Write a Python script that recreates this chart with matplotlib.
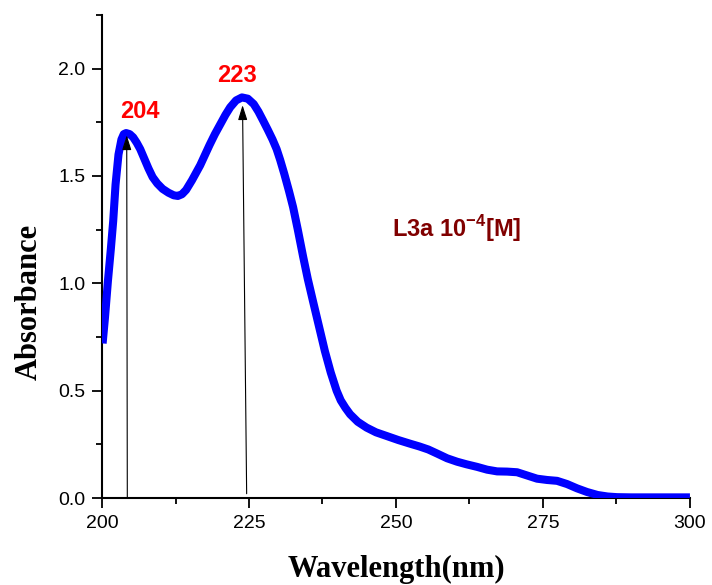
import matplotlib
matplotlib.use("Agg")
import matplotlib.pyplot as plt
from matplotlib.ticker import MultipleLocator

plt.rcParams["mathtext.fontset"] = "custom"
plt.rcParams["mathtext.rm"] = "Liberation Sans"
plt.rcParams["mathtext.bf"] = "Liberation Sans:bold"

# UV-Vis absorption spectrum of L3a (1e-4 M)
wavelength = [200.1, 200.5, 201.0, 201.5, 201.9, 202.3, 202.8, 203.3, 203.7, 204.1,
              204.7, 205.3, 205.9, 206.5, 207.2, 207.9, 208.6, 209.4, 210.3, 211.3,
              212.2, 212.9, 213.6, 214.3, 215.3, 216.7, 218.3, 219.2, 220.1, 221.0,
              221.8, 222.8, 223.8, 224.8, 225.8, 226.6, 227.4, 228.2, 229.0, 229.7,
              230.3, 231.0, 231.8, 232.5, 233.3, 234.2, 235.0, 235.9, 236.9, 237.9,
              238.9, 239.9, 240.6, 241.4, 242.2, 243.5, 245.0, 246.6, 248.4, 250.4,
              252.4, 254.0, 255.5, 257.0, 258.7, 260.4, 262.0, 263.8, 265.5, 267.2,
              268.9, 270.6, 272.3, 274.0, 275.7, 277.4, 279.1, 280.8, 282.5, 284.3,
              286.0, 287.6, 290.0, 295.0, 300.0]
absorbance = [0.72, 0.84, 1.01, 1.16, 1.29, 1.46, 1.60, 1.67, 1.695, 1.70,
              1.695, 1.68, 1.655, 1.625, 1.58, 1.535, 1.495, 1.465, 1.44, 1.422,
              1.41, 1.407, 1.415, 1.435, 1.48, 1.55, 1.645, 1.695, 1.74, 1.785,
              1.82, 1.852, 1.866, 1.86, 1.835, 1.80, 1.758, 1.715, 1.67, 1.625,
              1.575, 1.51, 1.43, 1.355, 1.25, 1.125, 1.02, 0.915, 0.80, 0.685,
              0.585, 0.50, 0.455, 0.42, 0.39, 0.355, 0.328, 0.306, 0.289, 0.27,
              0.253, 0.24, 0.226, 0.207, 0.185, 0.169, 0.157, 0.145, 0.132, 0.124,
              0.123, 0.12, 0.105, 0.09, 0.084, 0.08, 0.065, 0.045, 0.028, 0.014,
              0.007, 0.004, 0.003, 0.003, 0.003]

peak_labels = ["204", "223"]
peak_x = [204.2, 223.9]
peak_y = [1.69, 1.83]
sample_label = r"L3a 10$^{\mathbf{-4}}$[M]"

x_ticks = [200, 225, 250, 275, 300]
y_ticks = [0.0, 0.5, 1.0, 1.5, 2.0]

fig = plt.figure(figsize=(7.12, 5.85), dpi=100)
ax = fig.add_axes([0.1433, 0.1487, 0.8257, 0.8257])

ax.plot(wavelength, absorbance, color="#0000ff", lw=5.8,
        solid_joinstyle="round", solid_capstyle="butt", zorder=3)

# arrows marking the absorption maxima
arrow_base_x = [204.3, 224.6]
arrow_base_y = [0.0, 0.02]
for px, py, bx, by in zip(peak_x, peak_y, arrow_base_x, arrow_base_y):
    ax.annotate("", xy=(px, py), xytext=(bx, by),
                arrowprops=dict(arrowstyle="-|>,head_length=0.9,head_width=0.28",
                                color="black", lw=0.8, shrinkA=0, shrinkB=0),
                zorder=4)
ax.text(206.5, 1.80, peak_labels[0], color="#ff0000", fontsize=17,
        fontweight="bold", family="Liberation Sans", ha="center", va="center")
ax.text(222.9, 1.97, peak_labels[1], color="#ff0000", fontsize=17,
        fontweight="bold", family="Liberation Sans", ha="center", va="center")

ax.text(260.4, 1.255, sample_label, color="#800000", fontsize=17,
        fontweight="bold", family="Liberation Sans", ha="center", va="center")

ax.set_xlim(200, 300)
ax.set_ylim(0, 2.25)
ax.set_xticks(x_ticks)
ax.set_yticks(y_ticks)
ax.set_yticklabels([f"{v:.1f}" for v in y_ticks])
ax.xaxis.set_minor_locator(MultipleLocator(12.5))
ax.yaxis.set_minor_locator(MultipleLocator(0.25))

for side in ("top", "right"):
    ax.spines[side].set_visible(False)
for side in ("left", "bottom"):
    ax.spines[side].set_linewidth(1.5)

ax.tick_params(which="major", direction="out", length=7, width=1.3,
               labelsize=14, pad=5)
ax.tick_params(which="minor", direction="out", length=4, width=1.3)
for lab in ax.get_xticklabels() + ax.get_yticklabels():
    lab.set_family("Liberation Sans")

ax.set_xlabel("Wavelength(nm)", family="Liberation Serif", fontweight="bold",
              fontsize=22, labelpad=16.5)
ax.set_ylabel("Absorbance", family="Liberation Serif", fontweight="bold",
              fontsize=22, labelpad=10.5)
ax.yaxis.label.set_y(0.405)

fig.savefig("out.png", dpi=100)
